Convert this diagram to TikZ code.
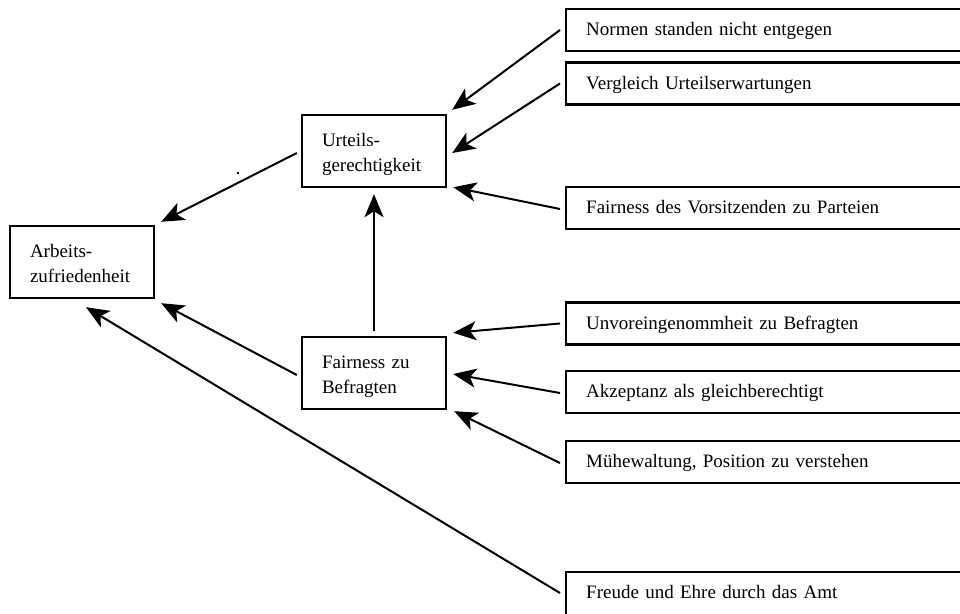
\documentclass[tikz,border=0pt]{standalone}
\usepackage{fontspec}
\setmainfont{Liberation Serif}
\usetikzlibrary{arrows.meta}
\tikzset{
  box/.style={draw, line width=2.4pt, inner ysep=0pt, inner xsep=20pt, align=left,
    font=\fontsize{19}{25.5}\selectfont},
  leftbox/.style={box, anchor=center, text width=104pt, minimum height=72pt,
    text height=15pt, text depth=25pt},
  rightbox/.style={box, anchor=west, text width=380pt, minimum height=42pt,
    text height=15pt, text depth=4pt},
  arr/.style={line width=2pt, -{Stealth[length=23pt,width=19pt,inset=6pt]}}
}
\begin{document}
\begin{tikzpicture}[x=1pt,y=-1pt]
\useasboundingbox (0,0) rectangle (960,613);
\clip (0,0) rectangle (960,613);
\fill[white] (0,0) rectangle (960,613);

\node[leftbox] (arb) at (82,262) {Arbeits-\\zufriedenheit};
\node[leftbox] (urt) at (374,151) {Urteils-\\gerechtigkeit};
\node[leftbox] (fzb) at (374,373) {Fairness zu\\Befragten};

\node[rightbox] (nor) at (565,30) {Normen standen nicht entgegen};
\node[rightbox] (ver) at (565,83.5) {Vergleich Urteilserwartungen};
\node[rightbox] (fvo) at (565,208) {Fairness des Vorsitzenden zu Parteien};
\node[rightbox] (unv) at (565,323.5) {Unvoreingenommheit zu Befragten};
\node[rightbox] (akz) at (565,392) {Akzeptanz als gleichberechtigt};
\node[rightbox] (muh) at (565,462) {Mühewaltung, Position zu verstehen};
\node[rightbox, minimum height=56pt, text depth=19pt] (fre) at (565,600) {Freude und Ehre durch das Amt};

\draw[arr] ([xshift=-5pt]nor.west) -- ([xshift=5pt,yshift=4pt]urt.north east);
\draw[arr] ([xshift=-5pt]ver.west) -- ([xshift=5pt,yshift=-2pt]urt.east);
\draw[arr] ([xshift=-5pt,yshift=-1pt]fvo.west) -- ([xshift=6pt,yshift=1pt]urt.south east);
\draw[arr] ([xshift=-5pt]unv.west) -- ([xshift=6pt,yshift=3pt]fzb.north east);
\draw[arr] ([xshift=-5pt,yshift=-1pt]akz.west) -- ([xshift=6pt,yshift=-1pt]fzb.east);
\draw[arr] ([xshift=-5pt,yshift=-1pt]muh.west) -- ([xshift=7pt,yshift=-1pt]fzb.south east);
\draw[arr] ([xshift=-5pt,yshift=7pt]fre.west) -- ([xshift=4pt,yshift=-8pt]arb.south);
\draw[arr] ([xshift=-4pt,yshift=-2pt]urt.west) -- ([xshift=6pt,yshift=3pt]arb.north east);
\draw[arr] ([xshift=-4pt,yshift=-2pt]fzb.west) -- ([xshift=6pt,yshift=-4pt]arb.south east);
\draw[arr] ([yshift=5pt]fzb.north) -- ([yshift=-6pt]urt.south);

\fill (236.5,171.5) rectangle (238.5,173.5);
\end{tikzpicture}
\end{document}
